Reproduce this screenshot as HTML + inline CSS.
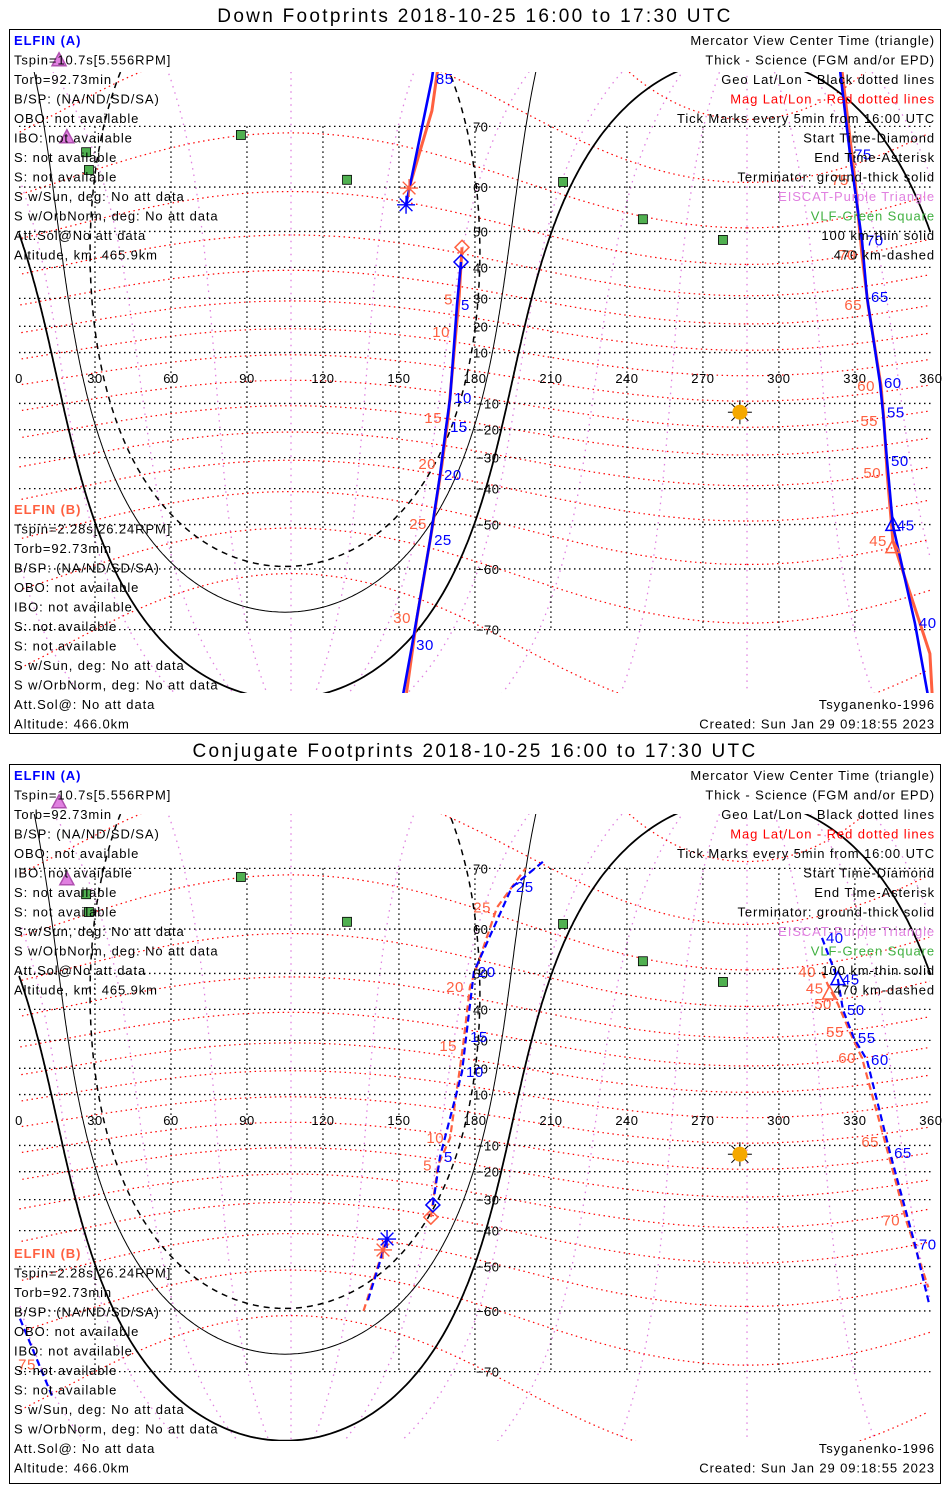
<!DOCTYPE html>
<html><head><meta charset="utf-8"><style>
html,body{margin:0;padding:0;background:#fff;overflow:hidden;width:950px;height:1500px;}
svg{display:block;font-family:"Liberation Sans",sans-serif;}
</style></head><body>
<svg id="chart" width="950" height="1500" viewBox="0 0 950 1500" xmlns="http://www.w3.org/2000/svg"></svg>
<script>
// ---------------- data ----------------
const lonTicks=[0,30,60,90,120,150,180,210,240,270,300,330,360];
const latTicks=[-70,-60,-50,-40,-30,-20,-10,10,20,30,40,50,60,70];
const magLats=[-70,-60,-50,-40,-30,-20,-10,0,10,20,30,40,50,60,70,80];
const magLons=[0,30,60,90,120,150,180,210,240,270,300,330];
const dipolePole=[80.9,287.4];
const antiSolar=[12.5,105];
const subSolar=[-13.4,284.6];
const termRadii=[90,80,72]; // ground, 100km, 470km
const vlfLon=[87.6,26.5,27.6,129.5,214.8,246.3,277.9];
const vlfLat=[68.8,66.2,63.2,61.4,61.0,53.0,47.8];
const eiscatLon=[15.8,18.9];
const eiscatLat=[77.2,68.4];
// Panel 1 (down footprints)
const aTime=[0,5,10,15,20,25,30,33,38,40,45,50,55,60,65,70,75,79,82,85,90];
const aLon=[174.5,172.9,170.2,168.6,166.2,162.3,155.2,150,359.5,353.7,345.0,342.7,341.1,339.9,334.8,332.8,328.1,322,166,163,152.8];
const aLat=[41.6,27.7,-7.9,-19,-35.8,-53.8,-72,-79,-78,-69.1,-50.2,-31.2,-13.6,-2,30.5,47.6,65.8,80,80,75.5,56.3];
const bTime=[0,5,10,15,20,25,30,33,38,40,45,50,55,60,65,70,75,79,82,85,90];
const bLon=[174.9,173.7,172.5,169.4,167,163.4,157.1,153,361,359.6,345,342.7,341.5,340.3,335.2,332.8,330,324,167,163,154];
const bLat=[45.8,29.6,17.9,-15.6,-32.2,-49.8,-68.4,-77,-79,-73,-54,-35.1,-16.8,-3.1,27.7,43.6,61.4,78,79,72,59.8];
// Panel 2 (conjugate footprints)
const caTime=[0,5,10,15,20,25,28,40,45,50,55,60,65,70,74,77,80,85,90];
const caLon=[163.4,166.2,174.9,176.5,179.6,194.6,207.7,317,323.3,325.3,329.6,334.8,343.9,353.7,359.5,0.4,13,137.8,145.3];
const caLat=[-31.8,-14.4,18.6,31.1,50.4,67.3,71.1,58.2,48.4,39.8,30.8,23,-13,-44,-59,-61.5,-73,-57.8,-42.5];
const cbTime=[0,5,10,15,20,25,28,40,45,50,55,60,65,70,73,75,85,90];
const cbLon=[162.6,165.4,170.2,175.3,178,188.7,200,317,320,323.3,328,332.8,341.9,350.2,359,9,136,143.7];
const cbLat=[-35.8,-17.6,-7.1,28,46.4,64,70,50.4,46,41.6,32.8,23.8,-8.6,-36.8,-55,-69,-60,-45.6];
const tickTimes=[5,10,15,20,25,30,40,45,50,55,60,65,70,75];
const extraTicksA=[[85],[]]; // per panel, ELFIN A only
const panelTitles=["Down Footprints 2018-10-25 16:00 to 17:30 UTC","Conjugate Footprints 2018-10-25 16:00 to 17:30 UTC"];
const leftA=["Tspin=10.7s[5.556RPM]","Torb=92.73min","B/SP: (NA/ND/SD/SA)","OBO: not available","IBO: not available","S: not available","S: not available","S w/Sun, deg: No att data","S w/OrbNorm, deg: No att data","Att.Sol@No att data","Altitude, km: 465.9km"];
const leftB=["Tspin=2.28s[26.24RPM]","Torb=92.73min","B/SP: (NA/ND/SD/SA)","OBO: not available","IBO: not available","S: not available","S: not available","S w/Sun, deg: No att data","S w/OrbNorm, deg: No att data","Att.Sol@: No att data","Altitude: 466.0km"];
const rightLines=[["Mercator View Center Time (triangle)","#000"],["Thick - Science (FGM and/or EPD)","#000"],["Geo Lat/Lon - Black dotted lines","#000"],["Mag Lat/Lon - Red dotted lines","#f00"],["Tick Marks every 5min from 16:00 UTC","#000"],["Start Time-Diamond","#000"],["End Time-Asterisk","#000"],["Terminator: ground-thick solid","#000"],["EISCAT-Purple Triangle","#e080e0"],["VLF-Green Square","#40b040"],["100 km-thin solid","#000"],["470 km-dashed","#000"]];

// ---------------- helpers ----------------
const NS="http://www.w3.org/2000/svg";
const svg=document.getElementById('chart');
function mk(tag,attrs,parent){const e=document.createElementNS(NS,tag);for(const k in attrs)e.setAttribute(k,attrs[k]);(parent||svg).appendChild(e);return e;}
const X0=19,KX=2.533,RM=145;
function xs(lon){return X0+KX*lon;}
function ys(lat,y0){const r=lat*Math.PI/180;return y0-RM*Math.log(Math.tan(Math.PI/4+r/2));}
const D=Math.PI/180;
function rot(x,y,z,poleLat,poleLon){const th=(90-poleLat)*D,ph=poleLon*D;
  let x1=x*Math.cos(th)+z*Math.sin(th),z1=-x*Math.sin(th)+z*Math.cos(th),y1=y;
  let x2=x1*Math.cos(ph)-y1*Math.sin(ph),y2=x1*Math.sin(ph)+y1*Math.cos(ph);
  let lon=Math.atan2(y2,x2)/D;if(lon<0)lon+=360;return [lon,Math.asin(Math.max(-1,Math.min(1,z1)))/D];}
function rotPts(poleLat,poleLon,cLat,n){const pts=[];
  for(let i=0;i<=n;i++){const ml=i/n*2*Math.PI;const c=Math.cos(cLat*D);
    pts.push(rot(c*Math.cos(ml),c*Math.sin(ml),Math.sin(cLat*D),poleLat,poleLon));}
  return pts;}
function meridPts(poleLat,poleLon,mlon,n){const pts=[];
  for(let i=0;i<=n;i++){const lat=-89+178*i/n;const c=Math.cos(lat*D);
    pts.push(rot(c*Math.cos(mlon*D),c*Math.sin(mlon*D),Math.sin(lat*D),poleLat,poleLon));}
  return pts;}
function pathFrom(pts,y0){let d="",prev=null;
  for(const p of pts){const x=xs(p[0]),y=ys(p[1],y0);
    if(prev&&Math.abs(p[0]-prev[0])<90)d+="L"+x.toFixed(1)+" "+y.toFixed(1);else d+="M"+x.toFixed(1)+" "+y.toFixed(1);prev=p;}
  return d;}
function txt(s,x,y,attrs,parent){const t=mk('text',Object.assign({x:x,y:y,'font-size':13,'letter-spacing':0.9},attrs||{}),parent);t.textContent=s;return t;}

// ---------------- panels ----------------
function drawPanel(pi,frameTop,frameH,y0,mapH,bShift,tA,tB,dashed){
  const g=mk('g',{});
  
  
  const tt=txt(panelTitles[pi],475,frameTop-7,{'font-size':19,'letter-spacing':2.3,'text-anchor':'middle'},g);
  
  
  const cid='clip'+pi;
  const cp=mk('clipPath',{id:cid},g);
  mk('rect',{x:10,y:y0-306,width:930,height:mapH},cp);
  const map=mk('g',{'clip-path':'url(#'+cid+')'},g);
  
  
  for(const ml of magLons){const p=mk('path',{d:pathFrom(meridPts(dipolePole[0],dipolePole[1],ml,120),y0),fill:'none',stroke:'#e080e0','stroke-width':1.3,'stroke-dasharray':'1.5 5'},map);
    
    }
  for(const ml of magLats){const p=mk('path',{d:pathFrom(rotPts(dipolePole[0],dipolePole[1],ml,240),y0),fill:'none',stroke:'#f00','stroke-width':1.2,'stroke-dasharray':'1.5 3.5'},map);
    
    }
  for(const la of latTicks){const p=mk('line',{x1:xs(0),x2:xs(360),y1:ys(la,y0),y2:ys(la,y0),stroke:'#000','stroke-width':1.3,'stroke-dasharray':'1.5 3.5'},map);
    
    }
  for(const lo of lonTicks){if(lo===0||lo===360)continue;const p=mk('line',{x1:xs(lo),x2:xs(lo),y1:ys(70,y0),y2:ys(-70,y0),stroke:'#000','stroke-width':1.3,'stroke-dasharray':'1.5 3.5'},map);
    
    }
  const tw=[1.8,1,1.5],td=['none','none','6 5'];
  termRadii.forEach((r,i)=>{const p=mk('path',{d:pathFrom(rotPts(antiSolar[0],antiSolar[1],90-r,720),y0),fill:'none',stroke:'#000','stroke-width':tw[i],'stroke-dasharray':td[i]},map);
    
    });
  function track(Lo,La,col,w,name){const pts=Lo.map((l,i)=>[l,La[i]]);
    const p=mk('path',{d:pathFrom(pts,y0),fill:'none',stroke:col,'stroke-width':w,'stroke-dasharray':dashed?'7 4':'none'},map);
    
    }
  if(dashed){track(tB[1],tB[2],'#ff6040',2.2,'elfin-b-track');track(tA[1],tA[2],'#0000ff',2.2,'elfin-a-track');}
  else{track(tB[1],tB[2],'#ff6040',3,'elfin-b-track');track(tA[1],tA[2],'#0000ff',2.6,'elfin-a-track');}
  for(const la of latTicks){const t=txt(String(la).replace('-','\u2212'),xs(180)+(la<0?1:-2),ys(la,y0)+5,{'font-size':13,'letter-spacing':0.5},g);
    
    }
  for(const lo of lonTicks){const t=txt(String(lo),xs(lo),y0+5,{'font-size':13,'letter-spacing':0.5,'text-anchor':'middle'},g);
    
    }
  function labels(T,Lo,La,col,dx,anchor,name,extra){T.forEach((t,i)=>{if(tickTimes.indexOf(t)<0&&extra.indexOf(t)<0)return;const y=ys(La[i],y0);const x=xs(Lo[i]);if(y<y0-300||y>y0+312||x>925)return;
    const e=txt(String(t),x+dx,y+5,{'font-size':15,'letter-spacing':0.5,fill:col,'text-anchor':anchor},g);
    
    });}
  labels(tA[0],tA[1],tA[2],'#0000ff',4,'start','elfin-a-tick-label',extraTicksA[pi]);
  labels(tB[0],tB[1],tB[2],'#ff6040',-6,'end','elfin-b-tick-label',[]);
  function diamond(lon,lat,col){const x=xs(lon),y=ys(lat,y0);const p=mk('path',{d:`M${x} ${y-7}L${x+7} ${y}L${x} ${y+7}L${x-7} ${y}Z`,fill:'none',stroke:col,'stroke-width':1.5},g);
    
    }
  function aster(lon,lat,col){const x=xs(lon),y=ys(lat,y0);let d='';for(let k=0;k<4;k++){const a=k*Math.PI/4;d+=`M${x-9*Math.cos(a)} ${y-9*Math.sin(a)}L${x+9*Math.cos(a)} ${y+9*Math.sin(a)}`;}
    const p=mk('path',{d:d,stroke:col,'stroke-width':1.4},g);
    
    }
  function tri(lon,lat,col,fill,name){const x=xs(lon),y=ys(lat,y0);const p=mk('path',{d:`M${x} ${y-8}L${x+7} ${y+5}L${x-7} ${y+5}Z`,fill:fill,stroke:col,'stroke-width':1.5},g);
    
    }
  diamond(tB[1][0],tB[2][0],'#ff6040');diamond(tA[1][0],tA[2][0],'#0000ff');
  const la=tA[1].length-1,lb=tB[1].length-1;
  aster(tB[1][lb],tB[2][lb],'#ff6040');aster(tA[1][la],tA[2][la],'#0000ff');
  const ia=tA[0].indexOf(45),ib=tB[0].indexOf(45);
  tri(tB[1][ib],tB[2][ib]-1.5,'#ff6040','none','view-center-triangle-b');
  tri(tA[1][ia],tA[2][ia],'#0000ff','none','view-center-triangle-a');
  vlfLon.forEach((lo,i)=>{const x=xs(lo),y=ys(vlfLat[i],y0);const r=mk('rect',{x:x-4.5,y:y-4.5,width:9,height:9,fill:'#50b050',stroke:'#000','stroke-width':0.8},g);
    
    });
  eiscatLon.forEach((lo,i)=>{tri(lo,eiscatLat[i],'#b050b0','#e080e0','eiscat-station');});
  const sx=xs(subSolar[1]),sy=ys(subSolar[0],y0);
  const sg=mk('g',{},g);
  
  
  for(let k=0;k<8;k++){const a=k*Math.PI/4;mk('line',{x1:sx,y1:sy,x2:sx+12*Math.cos(a),y2:sy+12*Math.sin(a),stroke:'#000','stroke-width':1},sg);}
  mk('circle',{cx:sx,cy:sy,r:7.5,fill:'#f5a800'},sg);
  const tb=frameTop+16;
  const hA=txt('ELFIN (A)',14,tb,{fill:'#0000ff','font-weight':'bold'},g);
  
  
  leftA.forEach((s,i)=>{const t=txt(s,14,tb+19.5*(i+1),{},g);
    
    });
  const hb=tb+469+bShift;
  const hB=txt('ELFIN (B)',14,hb,{fill:'#ff6040','font-weight':'bold'},g);
  
  
  leftB.forEach((s,i)=>{const t=txt(s,14,hb+19.5*(i+1),{},g);
    
    });
  rightLines.forEach((r,i)=>{const t=txt(r[0],935,tb+19.5*i,{fill:r[1],'text-anchor':'end'},g);
    
    });
  const m1=txt('Tsyganenko-1996',935,hb+19.5*10,{'text-anchor':'end'},g);
  
  
  const m2=txt('Created: Sun Jan 29 09:18:55 2023',935,hb+19.5*11,{'text-anchor':'end'},g);
  
  
  const fr=mk('rect',{x:9.5,y:frameTop+0.5,width:931,height:frameH,fill:'none',stroke:'#000','stroke-width':1},g);
  
  
}
drawPanel(0,29,704,378,621,0,[aTime,aLon,aLat],[bTime,bLon,bLat],false);
drawPanel(1,764,719,1120,627,9,[caTime,caLon,caLat],[cbTime,cbLon,cbLat],true);
</script>
</body></html>
